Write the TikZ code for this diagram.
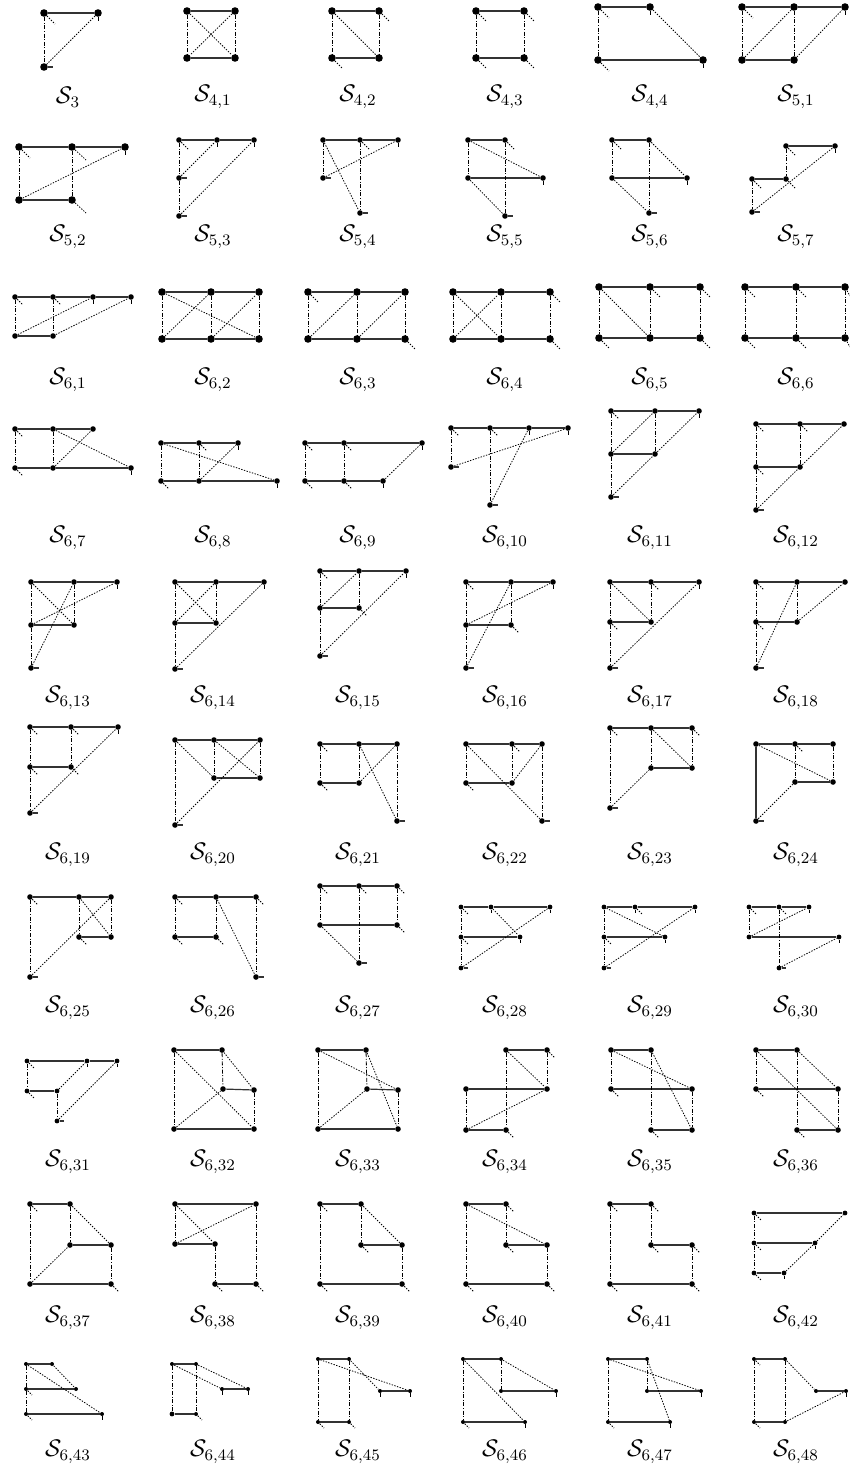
\documentclass[tikz,border=0pt]{standalone}
\usepackage{amsmath}
\usepackage{tikz}
\begin{document}
\begin{tikzpicture}[x=0.5pt,y=-0.5pt,
  vb/.style={circle,fill=black,inner sep=0pt,minimum size=3.8pt},
  vm/.style={circle,fill=black,inner sep=0pt,minimum size=2.8pt},
  vs/.style={circle,fill=black,inner sep=0pt,minimum size=2.4pt},
  vt/.style={circle,fill=black,inner sep=0pt,minimum size=2pt},
  sol/.style={line width=0.6pt,black!80},
  dsh/.style={line width=0.4pt,dash pattern=on 2pt off 0.8pt on 0.5pt off 0.8pt},
  dtt/.style={line width=0.4pt,dash pattern=on 0.7pt off 0.7pt},
  lab/.style={font=\large}]
\useasboundingbox (0,0) rectangle (850,1467);

\node[vb] (s3a) at (44,13) {}; \node[vb] (s3b) at (98,13) {}; \node[vb] (s3c) at (44,67) {};
\draw[sol] (s3a) -- (s3b); \draw[dsh] (s3a) -- (s3c); \draw[dtt] (s3b) -- (s3c);
\draw[dtt] (s3a) -- ++(11,11); \draw[dsh] (s3b) -- ++(0,8); \draw[sol] (s3c) -- ++(9,0);
\node[lab] (l3) at (68,97) {$\mathcal{S}_{3}$};

\node[vb] (s41a) at (187,11) {}; \node[vb] (s41b) at (235,11) {}; \node[vb] (s41c) at (187,58) {}; \node[vb] (s41d) at (235,58) {};
\draw[sol] (s41a) -- (s41b); \draw[sol] (s41c) -- (s41d);
\draw[dsh] (s41a) -- (s41c); \draw[dsh] (s41b) -- (s41d);
\draw[dtt] (s41a) -- (s41d); \draw[dtt] (s41b) -- (s41c);
\node[lab] (l41) at (213,97) {$\mathcal{S}_{4,1}$};

\node[vb] (s42a) at (332,11) {}; \node[vb] (s42b) at (379,11) {}; \node[vb] (s42c) at (332,58) {}; \node[vb] (s42d) at (379,58) {};
\draw[sol] (s42a) -- (s42b); \draw[sol] (s42c) -- (s42d);
\draw[dsh] (s42a) -- (s42c); \draw[dsh] (s42b) -- (s42d);
\draw[dtt] (s42a) -- (s42d);
\draw[dtt] (s42b) -- ++(10,10); \draw[dtt] (s42c) -- ++(10,10);
\node[lab] (l42) at (358,97) {$\mathcal{S}_{4,2}$};

\node[vb] (s43a) at (476,11) {}; \node[vb] (s43b) at (524,11) {}; \node[vb] (s43c) at (476,58) {}; \node[vb] (s43d) at (524,58) {};
\draw[sol] (s43a) -- (s43b); \draw[sol] (s43c) -- (s43d);
\draw[dsh] (s43a) -- (s43c); \draw[dsh] (s43b) -- (s43d);
\draw[dtt] (s43a) -- ++(10,10); \draw[dtt] (s43b) -- ++(10,10); \draw[dtt] (s43c) -- ++(10,10); \draw[dtt] (s43d) -- ++(10,10);
\node[lab] (l43) at (505,97) {$\mathcal{S}_{4,3}$};

\node[vb] (s44a) at (598,7) {}; \node[vb] (s44b) at (650,7) {}; \node[vb] (s44c) at (598,60) {}; \node[vb] (s44d) at (703,60) {};
\draw[sol] (s44a) -- (s44b); \draw[sol] (s44c) -- (s44d);
\draw[dsh] (s44a) -- (s44c); \draw[dtt] (s44b) -- (s44d);
\draw[dtt] (s44a) -- ++(11,11); \draw[dsh] (s44b) -- ++(0,8); \draw[dtt] (s44c) -- ++(11,11); \draw[dsh] (s44d) -- ++(0,8);
\node[lab] (l44) at (650,97) {$\mathcal{S}_{4,4}$};

\node[vb] (s51a) at (742,7) {}; \node[vb] (s51b) at (794,7) {}; \node[vb] (s51c) at (845,7) {}; \node[vb] (s51d) at (742,60) {}; \node[vb] (s51e) at (794,60) {};
\draw[sol] (s51a) -- (s51b) -- (s51c); \draw[sol] (s51d) -- (s51e);
\draw[dsh] (s51a) -- (s51d); \draw[dsh] (s51b) -- (s51e);
\draw[dtt] (s51d) -- (s51b); \draw[dtt] (s51e) -- (s51c);
\draw[dtt] (s51a) -- ++(11,11); \draw[dsh] (s51c) -- ++(0,8);
\node[lab] (l51) at (796,97) {$\mathcal{S}_{5,1}$};

\node[vb] (s52a) at (19,147) {}; \node[vb] (s52b) at (72,147) {}; \node[vb] (s52c) at (125,147) {}; \node[vb] (s52d) at (19,200) {}; \node[vb] (s52e) at (72,200) {};
\draw[sol] (s52a) -- (s52b) -- (s52c); \draw[sol] (s52d) -- (s52e);
\draw[dsh] (s52a) -- (s52d); \draw[dsh] (s52b) -- (s52e);
\draw[dtt] (s52d) -- (s52c);
\draw[dtt] (s52a) -- ++(11,11); \draw[dtt] (s52b) -- ++(14,13); \draw[dsh] (s52c) -- ++(0,8); \draw[dtt] (s52e) -- ++(14,13);
\node[lab] (l52) at (68,237) {$\mathcal{S}_{5,2}$};

\node[vm] (s53a) at (179,140) {}; \node[vm] (s53b) at (217,140) {}; \node[vm] (s53c) at (254,140) {}; \node[vm] (s53d) at (179,178) {}; \node[vm] (s53e) at (179,216) {};
\draw[sol] (s53a) -- (s53b) -- (s53c);
\draw[dsh] (s53a) -- (s53d) -- (s53e);
\draw[dtt] (s53d) -- (s53b); \draw[dtt] (s53e) -- (s53c);
\draw[dtt] (s53a) -- ++(9,9); \draw[dsh] (s53b) -- ++(0,7); \draw[dsh] (s53c) -- ++(0,7); \draw[sol] (s53d) -- ++(8,0); \draw[sol] (s53e) -- ++(8,0);
\node[lab] (l53) at (213,237) {$\mathcal{S}_{5,3}$};

\node[vm] (s54a) at (323,140) {}; \node[vm] (s54b) at (360,140) {}; \node[vm] (s54c) at (398,140) {}; \node[vm] (s54d) at (323,178) {}; \node[vm] (s54e) at (360,213) {};
\draw[sol] (s54a) -- (s54b) -- (s54c);
\draw[dsh] (s54a) -- (s54d); \draw[dsh] (s54b) -- (s54e);
\draw[dtt] (s54a) -- (s54e); \draw[dtt] (s54d) -- (s54c);
\draw[dtt] (s54b) -- ++(9,9); \draw[dsh] (s54c) -- ++(0,7); \draw[sol] (s54d) -- ++(8,0); \draw[sol] (s54e) -- ++(8,0);
\node[lab] (l54) at (358,237) {$\mathcal{S}_{5,4}$};

\node[vm] (s55a) at (468,140) {}; \node[vm] (s55b) at (505,140) {}; \node[vm] (s55c) at (468,178) {}; \node[vm] (s55d) at (543,178) {}; \node[vm] (s55e) at (505,216) {};
\draw[sol] (s55a) -- (s55b); \draw[sol] (s55c) -- (s55d);
\draw[dsh] (s55a) -- (s55c); \draw[dsh] (s55b) -- (s55e);
\draw[dtt] (s55a) -- (s55d); \draw[dtt] (s55c) -- (s55e);
\draw[dtt] (s55b) -- ++(9,9); \draw[dsh] (s55d) -- ++(0,7); \draw[sol] (s55e) -- ++(8,0);
\node[lab] (l55) at (505,237) {$\mathcal{S}_{5,5}$};

\node[vm] (s56a) at (612,140) {}; \node[vm] (s56b) at (649,140) {}; \node[vm] (s56c) at (612,178) {}; \node[vm] (s56d) at (687,178) {}; \node[vm] (s56e) at (649,213) {};
\draw[sol] (s56a) -- (s56b); \draw[sol] (s56c) -- (s56d);
\draw[dsh] (s56a) -- (s56c); \draw[dsh] (s56b) -- (s56e);
\draw[dtt] (s56b) -- (s56d); \draw[dtt] (s56c) -- (s56e);
\draw[dtt] (s56a) -- ++(9,9); \draw[dsh] (s56d) -- ++(0,7); \draw[sol] (s56e) -- ++(8,0);
\node[lab] (l56) at (650,237) {$\mathcal{S}_{5,6}$};

\node[vm] (s57a) at (786,146) {}; \node[vm] (s57b) at (835,146) {}; \node[vm] (s57c) at (752,179) {}; \node[vm] (s57d) at (786,179) {}; \node[vm] (s57e) at (752,212) {};
\draw[sol] (s57a) -- (s57b); \draw[sol] (s57c) -- (s57d);
\draw[dsh] (s57a) -- (s57d); \draw[dsh] (s57c) -- (s57e);
\draw[dtt] (s57e) -- (s57b);
\draw[dtt] (s57a) -- ++(9,9); \draw[dsh] (s57b) -- ++(0,7); \draw[dtt] (s57c) -- ++(9,9); \draw[dtt] (s57d) -- ++(9,9); \draw[sol] (s57e) -- ++(8,0);
\node[lab] (l57) at (796,237) {$\mathcal{S}_{5,7}$};

\node[vm] (s61a) at (15,297) {}; \node[vm] (s61b) at (53,297) {}; \node[vm] (s61c) at (93,297) {}; \node[vm] (s61d) at (131,297) {}; \node[vm] (s61e) at (15,336) {}; \node[vm] (s61f) at (53,336) {};
\draw[sol] (s61a) -- (s61b) -- (s61c) -- (s61d); \draw[sol] (s61e) -- (s61f);
\draw[dsh] (s61a) -- (s61e); \draw[dsh] (s61b) -- (s61f);
\draw[dtt] (s61e) -- (s61c); \draw[dtt] (s61f) -- (s61d);
\draw[dtt] (s61a) -- ++(8,8); \draw[dtt] (s61b) -- ++(8,8); \draw[dsh] (s61c) -- ++(0,7); \draw[dsh] (s61d) -- ++(0,7);
\node[lab] (l61) at (68,380) {$\mathcal{S}_{6,1}$};

\node[vb] (s62a) at (162,292) {}; \node[vb] (s62b) at (211,292) {}; \node[vb] (s62c) at (259,292) {}; \node[vb] (s62d) at (162,339) {}; \node[vb] (s62e) at (211,339) {}; \node[vb] (s62f) at (259,339) {};
\draw[sol] (s62a) -- (s62b) -- (s62c); \draw[sol] (s62d) -- (s62e) -- (s62f);
\draw[dsh] (s62a) -- (s62d); \draw[dsh] (s62b) -- (s62e); \draw[dsh] (s62c) -- (s62f);
\draw[dtt] (s62a) -- (s62f); \draw[dtt] (s62d) -- (s62b); \draw[dtt] (s62e) -- (s62c);
\node[lab] (l62) at (213,380) {$\mathcal{S}_{6,2}$};

\node[vb] (s63a) at (308,292) {}; \node[vb] (s63b) at (357,292) {}; \node[vb] (s63c) at (405,292) {}; \node[vb] (s63d) at (308,339) {}; \node[vb] (s63e) at (357,339) {}; \node[vb] (s63f) at (405,339) {};
\draw[sol] (s63a) -- (s63b) -- (s63c); \draw[sol] (s63d) -- (s63e) -- (s63f);
\draw[dsh] (s63a) -- (s63d); \draw[dsh] (s63b) -- (s63e); \draw[dsh] (s63c) -- (s63f);
\draw[dtt] (s63d) -- (s63b); \draw[dtt] (s63e) -- (s63c);
\draw[dtt] (s63a) -- ++(10,10); \draw[dtt] (s63f) -- ++(10,10);
\node[lab] (l63) at (358,380) {$\mathcal{S}_{6,3}$};

\node[vb] (s64a) at (453,292) {}; \node[vb] (s64b) at (501,292) {}; \node[vb] (s64c) at (550,292) {}; \node[vb] (s64d) at (453,339) {}; \node[vb] (s64e) at (501,339) {}; \node[vb] (s64f) at (550,339) {};
\draw[sol] (s64a) -- (s64b) -- (s64c); \draw[sol] (s64d) -- (s64e) -- (s64f);
\draw[dsh] (s64a) -- (s64d); \draw[dsh] (s64b) -- (s64e); \draw[dsh] (s64c) -- (s64f);
\draw[dtt] (s64a) -- (s64e); \draw[dtt] (s64d) -- (s64b);
\draw[dtt] (s64c) -- ++(10,10); \draw[dtt] (s64f) -- ++(10,10);
\node[lab] (l64) at (505,380) {$\mathcal{S}_{6,4}$};

\node[vb] (s65a) at (599,287) {}; \node[vb] (s65b) at (650,287) {}; \node[vb] (s65c) at (700,287) {}; \node[vb] (s65d) at (599,338) {}; \node[vb] (s65e) at (650,338) {}; \node[vb] (s65f) at (700,338) {};
\draw[sol] (s65a) -- (s65b) -- (s65c); \draw[sol] (s65d) -- (s65e) -- (s65f);
\draw[dsh] (s65a) -- (s65d); \draw[dsh] (s65b) -- (s65e); \draw[dsh] (s65c) -- (s65f);
\draw[dtt] (s65a) -- (s65e);
\draw[dtt] (s65b) -- ++(10,10); \draw[dtt] (s65c) -- ++(10,10); \draw[dtt] (s65d) -- ++(10,10); \draw[dtt] (s65f) -- ++(10,10);
\node[lab] (l65) at (650,380) {$\mathcal{S}_{6,5}$};

\node[vb] (s66a) at (745,287) {}; \node[vb] (s66b) at (796,287) {}; \node[vb] (s66c) at (845,287) {}; \node[vb] (s66d) at (745,338) {}; \node[vb] (s66e) at (796,338) {}; \node[vb] (s66f) at (845,338) {};
\draw[sol] (s66a) -- (s66b) -- (s66c); \draw[sol] (s66d) -- (s66e) -- (s66f);
\draw[dsh] (s66a) -- (s66d); \draw[dsh] (s66b) -- (s66e); \draw[dsh] (s66c) -- (s66f);
\draw[dtt] (s66a) -- ++(10,10); \draw[dtt] (s66b) -- ++(10,10); \draw[dtt] (s66c) -- ++(5,9); \draw[dtt] (s66d) -- ++(10,10); \draw[dtt] (s66e) -- ++(10,10); \draw[dtt] (s66f) -- ++(5,9);
\node[lab] (l66) at (796,380) {$\mathcal{S}_{6,6}$};

\node[vm] (s67a) at (15,429) {}; \node[vm] (s67b) at (53,429) {}; \node[vm] (s67c) at (93,429) {}; \node[vm] (s67d) at (15,468) {}; \node[vm] (s67e) at (53,468) {}; \node[vm] (s67f) at (131,468) {};
\draw[sol] (s67a) -- (s67b) -- (s67c); \draw[sol] (s67d) -- (s67e) -- (s67f);
\draw[dsh] (s67a) -- (s67d); \draw[dsh] (s67b) -- (s67e);
\draw[dtt] (s67e) -- (s67c); \draw[dtt] (s67b) -- (s67f);
\draw[dtt] (s67a) -- ++(8,8); \draw[dtt] (s67d) -- ++(8,8); \draw[dsh] (s67f) -- ++(0,7);
\node[lab] (l67) at (68,538) {$\mathcal{S}_{6,7}$};

\node[vm] (s68a) at (161,443) {}; \node[vm] (s68b) at (199,443) {}; \node[vm] (s68c) at (238,443) {}; \node[vm] (s68d) at (161,481) {}; \node[vm] (s68e) at (199,481) {}; \node[vm] (s68f) at (277,481) {};
\draw[sol] (s68a) -- (s68b) -- (s68c); \draw[sol] (s68d) -- (s68e) -- (s68f);
\draw[dsh] (s68a) -- (s68d); \draw[dsh] (s68b) -- (s68e);
\draw[dtt] (s68a) -- (s68f); \draw[dtt] (s68e) -- (s68c);
\draw[dtt] (s68b) -- ++(8,8); \draw[dsh] (s68c) -- ++(0,7); \draw[dtt] (s68d) -- ++(8,8); \draw[dsh] (s68f) -- ++(0,7);
\node[lab] (l68) at (213,538) {$\mathcal{S}_{6,8}$};

\node[vm] (s69a) at (305,443) {}; \node[vm] (s69b) at (344,443) {}; \node[vm] (s69c) at (422,443) {}; \node[vm] (s69d) at (305,481) {}; \node[vm] (s69e) at (344,481) {}; \node[vm] (s69f) at (383,481) {};
\draw[sol] (s69a) -- (s69b) -- (s69c); \draw[sol] (s69d) -- (s69e) -- (s69f);
\draw[dsh] (s69a) -- (s69d); \draw[dsh] (s69b) -- (s69e);
\draw[dtt] (s69f) -- (s69c);
\draw[dtt] (s69a) -- ++(8,8); \draw[dtt] (s69b) -- ++(8,8); \draw[dsh] (s69c) -- ++(0,7); \draw[dtt] (s69d) -- ++(8,8); \draw[dtt] (s69e) -- ++(8,8); \draw[dsh] (s69f) -- ++(0,7);
\node[lab] (l69) at (358,538) {$\mathcal{S}_{6,9}$};

\node[vm] (s610a) at (451,428) {}; \node[vm] (s610b) at (490,428) {}; \node[vm] (s610c) at (529,428) {}; \node[vm] (s610d) at (568,428) {}; \node[vm] (s610e) at (451,467) {}; \node[vm] (s610f) at (490,505) {};
\draw[sol] (s610a) -- (s610b) -- (s610c) -- (s610d);
\draw[dsh] (s610a) -- (s610e); \draw[dsh] (s610b) -- (s610f);
\draw[dtt] (s610e) -- (s610d); \draw[dtt] (s610f) -- (s610c);
\draw[dtt] (s610a) -- ++(8,8); \draw[dtt] (s610b) -- ++(8,8); \draw[dsh] (s610c) -- ++(0,7); \draw[dsh] (s610d) -- ++(0,7); \draw[sol] (s610e) -- ++(8,0); \draw[sol] (s610f) -- ++(8,0);
\node[lab] (l610) at (505,538) {$\mathcal{S}_{6,10}$};

\node[vm] (s611a) at (611,411) {}; \node[vm] (s611b) at (655,411) {}; \node[vm] (s611c) at (699,411) {}; \node[vm] (s611d) at (611,454) {}; \node[vm] (s611e) at (655,454) {}; \node[vm] (s611f) at (611,497) {};
\draw[sol] (s611a) -- (s611b) -- (s611c); \draw[sol] (s611d) -- (s611e);
\draw[dsh] (s611a) -- (s611d) -- (s611f); \draw[dsh] (s611b) -- (s611e);
\draw[dtt] (s611d) -- (s611b); \draw[dtt] (s611f) -- (s611e) -- (s611c);
\draw[dtt] (s611a) -- ++(8,8); \draw[dsh] (s611c) -- ++(0,7); \draw[sol] (s611f) -- ++(8,0);
\node[lab] (l611) at (650,538) {$\mathcal{S}_{6,11}$};

\node[vm] (s612a) at (756,424) {}; \node[vm] (s612b) at (800,424) {}; \node[vm] (s612c) at (844,424) {}; \node[vm] (s612d) at (756,467) {}; \node[vm] (s612e) at (800,467) {}; \node[vm] (s612f) at (756,510) {};
\draw[sol] (s612a) -- (s612b) -- (s612c); \draw[sol] (s612d) -- (s612e);
\draw[dsh] (s612a) -- (s612d) -- (s612f); \draw[dsh] (s612b) -- (s612e);
\draw[dtt] (s612f) -- (s612e) -- (s612c);
\draw[dtt] (s612a) -- ++(8,8); \draw[dtt] (s612b) -- ++(8,8); \draw[dtt] (s612d) -- ++(8,8); \draw[sol] (s612f) -- ++(8,0);
\node[lab] (l612) at (796,538) {$\mathcal{S}_{6,12}$};

\node[vm] (s613a) at (31,582) {}; \node[vm] (s613b) at (74,582) {}; \node[vm] (s613c) at (117,582) {}; \node[vm] (s613d) at (31,625) {}; \node[vm] (s613e) at (74,625) {}; \node[vm] (s613f) at (31,668) {};
\draw[sol] (s613a) -- (s613b) -- (s613c); \draw[sol] (s613d) -- (s613e);
\draw[dsh] (s613a) -- (s613d) -- (s613f); \draw[dsh] (s613b) -- (s613e);
\draw[dtt] (s613a) -- (s613e); \draw[dtt] (s613d) -- (s613c); \draw[dtt] (s613f) -- (s613b);
\draw[dsh] (s613c) -- ++(0,7); \draw[sol] (s613f) -- ++(8,0);
\node[lab] (l613) at (68,698) {$\mathcal{S}_{6,13}$};

\node[vm] (s614a) at (175,582) {}; \node[vm] (s614b) at (216,582) {}; \node[vm] (s614c) at (264,582) {}; \node[vm] (s614d) at (175,623) {}; \node[vm] (s614e) at (216,623) {}; \node[vm] (s614f) at (175,669) {};
\draw[sol] (s614a) -- (s614b) -- (s614c); \draw[sol] (s614d) -- (s614e);
\draw[dsh] (s614a) -- (s614d) -- (s614f); \draw[dsh] (s614b) -- (s614e);
\draw[dtt] (s614a) -- (s614e); \draw[dtt] (s614d) -- (s614b); \draw[dtt] (s614f) -- (s614c);
\draw[dsh] (s614c) -- ++(0,7); \draw[sol] (s614f) -- ++(8,0);
\node[lab] (l614) at (213,698) {$\mathcal{S}_{6,14}$};

\node[vm] (s615a) at (320,571) {}; \node[vm] (s615b) at (359,571) {}; \node[vm] (s615c) at (406,571) {}; \node[vm] (s615d) at (320,608) {}; \node[vm] (s615e) at (359,608) {}; \node[vm] (s615f) at (320,656) {};
\draw[sol] (s615a) -- (s615b) -- (s615c); \draw[sol] (s615d) -- (s615e);
\draw[dsh] (s615a) -- (s615d) -- (s615f); \draw[dsh] (s615b) -- (s615e);
\draw[dtt] (s615d) -- (s615b); \draw[dtt] (s615f) -- (s615c);
\draw[dtt] (s615a) -- ++(8,8); \draw[dsh] (s615c) -- ++(0,7); \draw[dtt] (s615e) -- ++(8,8); \draw[sol] (s615f) -- ++(8,0);
\node[lab] (l615) at (358,698) {$\mathcal{S}_{6,15}$};

\node[vm] (s616a) at (466,582) {}; \node[vm] (s616b) at (511,582) {}; \node[vm] (s616c) at (553,582) {}; \node[vm] (s616d) at (466,625) {}; \node[vm] (s616e) at (511,625) {}; \node[vm] (s616f) at (466,668) {};
\draw[sol] (s616a) -- (s616b) -- (s616c); \draw[sol] (s616d) -- (s616e);
\draw[dsh] (s616a) -- (s616d) -- (s616f); \draw[dsh] (s616b) -- (s616e);
\draw[dtt] (s616d) -- (s616c); \draw[dtt] (s616f) -- (s616b);
\draw[dtt] (s616a) -- ++(8,8); \draw[dsh] (s616c) -- ++(0,7); \draw[dtt] (s616e) -- ++(8,8); \draw[sol] (s616f) -- ++(8,0);
\node[lab] (l616) at (505,698) {$\mathcal{S}_{6,16}$};

\node[vm] (s617a) at (610,582) {}; \node[vm] (s617b) at (651,582) {}; \node[vm] (s617c) at (699,582) {}; \node[vm] (s617d) at (610,622) {}; \node[vm] (s617e) at (651,622) {}; \node[vm] (s617f) at (610,668) {};
\draw[sol] (s617a) -- (s617b) -- (s617c); \draw[sol] (s617d) -- (s617e);
\draw[dsh] (s617a) -- (s617d) -- (s617f); \draw[dsh] (s617b) -- (s617e);
\draw[dtt] (s617a) -- (s617e); \draw[dtt] (s617f) -- (s617c);
\draw[dtt] (s617b) -- ++(8,8); \draw[dsh] (s617c) -- ++(0,7); \draw[dtt] (s617d) -- ++(8,8); \draw[sol] (s617f) -- ++(8,0);
\node[lab] (l617) at (650,698) {$\mathcal{S}_{6,17}$};

\node[vm] (s618a) at (756,582) {}; \node[vm] (s618b) at (797,582) {}; \node[vm] (s618c) at (845,582) {}; \node[vm] (s618d) at (756,622) {}; \node[vm] (s618e) at (797,622) {}; \node[vm] (s618f) at (756,668) {};
\draw[sol] (s618a) -- (s618b) -- (s618c); \draw[sol] (s618d) -- (s618e);
\draw[dsh] (s618a) -- (s618d) -- (s618f); \draw[dsh] (s618b) -- (s618e);
\draw[dtt] (s618f) -- (s618b); \draw[dtt] (s618e) -- (s618c);
\draw[dtt] (s618a) -- ++(8,8); \draw[dtt] (s618d) -- ++(8,8); \draw[sol] (s618f) -- ++(8,0);
\node[lab] (l618) at (796,698) {$\mathcal{S}_{6,18}$};

\node[vm] (s619a) at (30,727) {}; \node[vm] (s619b) at (71,727) {}; \node[vm] (s619c) at (118,727) {}; \node[vm] (s619d) at (30,767) {}; \node[vm] (s619e) at (71,767) {}; \node[vm] (s619f) at (30,813) {};
\draw[sol] (s619a) -- (s619b) -- (s619c); \draw[sol] (s619d) -- (s619e);
\draw[dsh] (s619a) -- (s619d) -- (s619f); \draw[dsh] (s619b) -- (s619e);
\draw[dtt] (s619f) -- (s619c);
\draw[dtt] (s619a) -- ++(8,8); \draw[dtt] (s619b) -- ++(8,8); \draw[dsh] (s619c) -- ++(0,7); \draw[dtt] (s619d) -- ++(8,8); \draw[dtt] (s619e) -- ++(8,8); \draw[sol] (s619f) -- ++(8,0);
\node[lab] (l619) at (68,855) {$\mathcal{S}_{6,19}$};

\node[vm] (s620a) at (175,740) {}; \node[vm] (s620b) at (214,740) {}; \node[vm] (s620c) at (260,740) {}; \node[vm] (s620d) at (214,778) {}; \node[vm] (s620e) at (260,778) {}; \node[vm] (s620f) at (175,825) {};
\draw[sol] (s620a) -- (s620b) -- (s620c); \draw[sol] (s620d) -- (s620e);
\draw[dsh] (s620a) -- (s620f); \draw[dsh] (s620b) -- (s620d); \draw[dsh] (s620c) -- (s620e);
\draw[dtt] (s620a) -- (s620d); \draw[dtt] (s620b) -- (s620e); \draw[dtt] (s620f) -- (s620c);
\draw[sol] (s620f) -- ++(8,0);
\node[lab] (l620) at (213,855) {$\mathcal{S}_{6,20}$};

\node[vm] (s621a) at (320,744) {}; \node[vm] (s621b) at (359,744) {}; \node[vm] (s621c) at (397,744) {}; \node[vm] (s621d) at (320,783) {}; \node[vm] (s621e) at (359,783) {}; \node[vm] (s621f) at (397,821) {};
\draw[sol] (s621a) -- (s621b) -- (s621c); \draw[sol] (s621d) -- (s621e);
\draw[dsh] (s621a) -- (s621d); \draw[dsh] (s621b) -- (s621e); \draw[dsh] (s621c) -- (s621f);
\draw[dtt] (s621e) -- (s621c); \draw[dtt] (s621b) -- (s621f);
\draw[dtt] (s621a) -- ++(8,8); \draw[dtt] (s621d) -- ++(8,8); \draw[sol] (s621f) -- ++(8,0);
\node[lab] (l621) at (358,855) {$\mathcal{S}_{6,21}$};

\node[vm] (s622a) at (466,744) {}; \node[vm] (s622b) at (512,744) {}; \node[vm] (s622c) at (542,744) {}; \node[vm] (s622d) at (466,783) {}; \node[vm] (s622e) at (512,783) {}; \node[vm] (s622f) at (542,821) {};
\draw[sol] (s622a) -- (s622b) -- (s622c); \draw[sol] (s622d) -- (s622e);
\draw[dsh] (s622a) -- (s622d); \draw[dsh] (s622b) -- (s622e); \draw[dsh] (s622c) -- (s622f);
\draw[dtt] (s622a) -- (s622f); \draw[dtt] (s622e) -- (s622c);
\draw[dtt] (s622b) -- ++(8,8); \draw[dtt] (s622d) -- ++(8,8); \draw[sol] (s622f) -- ++(8,0);
\node[lab] (l622) at (505,855) {$\mathcal{S}_{6,22}$};

\node[vm] (s623a) at (610,728) {}; \node[vm] (s623b) at (651,728) {}; \node[vm] (s623c) at (692,728) {}; \node[vm] (s623d) at (651,768) {}; \node[vm] (s623e) at (692,768) {}; \node[vm] (s623f) at (610,808) {};
\draw[sol] (s623a) -- (s623b) -- (s623c); \draw[sol] (s623d) -- (s623e);
\draw[dsh] (s623a) -- (s623f); \draw[dsh] (s623b) -- (s623d); \draw[dsh] (s623c) -- (s623e);
\draw[dtt] (s623b) -- (s623e); \draw[dtt] (s623f) -- (s623d);
\draw[dtt] (s623a) -- ++(8,8); \draw[dtt] (s623c) -- ++(8,8); \draw[sol] (s623f) -- ++(8,0);
\node[lab] (l623) at (650,855) {$\mathcal{S}_{6,23}$};

\node[vm] (s624a) at (756,744) {}; \node[vm] (s624b) at (795,744) {}; \node[vm] (s624c) at (833,744) {}; \node[vm] (s624d) at (795,782) {}; \node[vm] (s624e) at (833,782) {}; \node[vm] (s624f) at (756,821) {};
\draw[sol] (s624a) -- (s624b) -- (s624c); \draw[sol] (s624d) -- (s624e); \draw[sol] (s624a) -- (s624f);
\draw[dsh] (s624b) -- (s624d); \draw[dsh] (s624c) -- (s624e);
\draw[dtt] (s624a) -- (s624e); \draw[dtt] (s624f) -- (s624d);
\draw[dtt] (s624b) -- ++(8,8); \draw[sol] (s624f) -- ++(8,0);
\node[lab] (l624) at (796,855) {$\mathcal{S}_{6,24}$};

\node[vm] (s625a) at (30,897) {}; \node[vm] (s625b) at (79,897) {}; \node[vm] (s625c) at (111,897) {}; \node[vm] (s625d) at (79,937) {}; \node[vm] (s625e) at (111,937) {}; \node[vm] (s625f) at (30,977) {};
\draw[sol] (s625a) -- (s625b) -- (s625c); \draw[sol] (s625d) -- (s625e);
\draw[dsh] (s625a) -- (s625f); \draw[dsh] (s625b) -- (s625d); \draw[dsh] (s625c) -- (s625e);
\draw[dtt] (s625b) -- (s625e); \draw[dtt] (s625f) -- (s625c);
\draw[dtt] (s625a) -- ++(8,8); \draw[dtt] (s625d) -- ++(8,8); \draw[sol] (s625f) -- ++(8,0);
\node[lab] (l625) at (68,1008) {$\mathcal{S}_{6,25}$};

\node[vm] (s626a) at (175,897) {}; \node[vm] (s626b) at (216,897) {}; \node[vm] (s626c) at (256,897) {}; \node[vm] (s626d) at (175,937) {}; \node[vm] (s626e) at (216,937) {}; \node[vm] (s626f) at (256,977) {};
\draw[sol] (s626a) -- (s626b) -- (s626c); \draw[sol] (s626d) -- (s626e);
\draw[dsh] (s626a) -- (s626d); \draw[dsh] (s626b) -- (s626e); \draw[dsh] (s626c) -- (s626f);
\draw[dtt] (s626b) -- (s626f);
\draw[dtt] (s626a) -- ++(8,8); \draw[dtt] (s626c) -- ++(8,8); \draw[dtt] (s626d) -- ++(8,8); \draw[dtt] (s626e) -- ++(8,8); \draw[sol] (s626f) -- ++(8,0);
\node[lab] (l626) at (213,1008) {$\mathcal{S}_{6,26}$};

\node[vm] (s627a) at (320,886) {}; \node[vm] (s627b) at (359,886) {}; \node[vm] (s627c) at (397,886) {}; \node[vm] (s627d) at (320,925) {}; \node[vm] (s627e) at (397,925) {}; \node[vm] (s627f) at (359,963) {};
\draw[sol] (s627a) -- (s627b) -- (s627c); \draw[sol] (s627d) -- (s627e);
\draw[dsh] (s627a) -- (s627d); \draw[dsh] (s627b) -- (s627f); \draw[dsh] (s627c) -- (s627e);
\draw[dtt] (s627d) -- (s627f);
\draw[dtt] (s627a) -- ++(8,8); \draw[dtt] (s627b) -- ++(8,8); \draw[dtt] (s627c) -- ++(8,8); \draw[dtt] (s627e) -- ++(8,8); \draw[sol] (s627f) -- ++(8,0);
\node[lab] (l627) at (358,1008) {$\mathcal{S}_{6,27}$};

\node[vs] (s628a) at (461,907) {}; \node[vs] (s628b) at (491,907) {}; \node[vs] (s628c) at (550,907) {}; \node[vs] (s628d) at (461,937) {}; \node[vs] (s628e) at (520,937) {}; \node[vs] (s628f) at (461,968) {};
\draw[sol] (s628a) -- (s628b) -- (s628c); \draw[sol] (s628d) -- (s628e);
\draw[dsh] (s628a) -- (s628d) -- (s628f);
\draw[dtt] (s628b) -- (s628e); \draw[dtt] (s628f) -- (s628c);
\draw[dtt] (s628a) -- ++(7,7); \draw[dsh] (s628b) -- ++(0,6); \draw[dsh] (s628c) -- ++(0,6); \draw[dtt] (s628d) -- ++(7,7); \draw[dsh] (s628e) -- ++(0,6); \draw[sol] (s628f) -- ++(7,0);
\node[lab] (l628) at (505,1008) {$\mathcal{S}_{6,28}$};

\node[vs] (s629a) at (604,907) {}; \node[vs] (s629b) at (635,907) {}; \node[vs] (s629c) at (695,907) {}; \node[vs] (s629d) at (604,937) {}; \node[vs] (s629e) at (665,937) {}; \node[vs] (s629f) at (604,968) {};
\draw[sol] (s629a) -- (s629b) -- (s629c); \draw[sol] (s629d) -- (s629e);
\draw[dsh] (s629a) -- (s629d) -- (s629f);
\draw[dtt] (s629a) -- (s629e); \draw[dtt] (s629f) -- (s629c);
\draw[dsh] (s629b) -- ++(0,6); \draw[dtt] (s629b) -- ++(7,7); \draw[dsh] (s629c) -- ++(0,6); \draw[dtt] (s629d) -- ++(7,7); \draw[dsh] (s629e) -- ++(0,6); \draw[sol] (s629f) -- ++(7,0);
\node[lab] (l629) at (650,1008) {$\mathcal{S}_{6,29}$};

\node[vs] (s630a) at (749,907) {}; \node[vs] (s630b) at (779,907) {}; \node[vs] (s630c) at (809,907) {}; \node[vs] (s630d) at (749,937) {}; \node[vs] (s630e) at (839,937) {}; \node[vs] (s630f) at (779,968) {};
\draw[sol] (s630a) -- (s630b) -- (s630c); \draw[sol] (s630d) -- (s630e);
\draw[dsh] (s630a) -- (s630d); \draw[dsh] (s630b) -- (s630f);
\draw[dtt] (s630d) -- (s630c); \draw[dtt] (s630f) -- (s630e);
\draw[dtt] (s630a) -- ++(7,7); \draw[dtt] (s630b) -- ++(7,7); \draw[dsh] (s630c) -- ++(0,6); \draw[dsh] (s630e) -- ++(0,6); \draw[sol] (s630f) -- ++(7,0);
\node[lab] (l630) at (796,1008) {$\mathcal{S}_{6,30}$};

\node[vs] (s631a) at (27,1061) {}; \node[vs] (s631b) at (87,1061) {}; \node[vs] (s631c) at (117,1061) {}; \node[vs] (s631d) at (27,1091) {}; \node[vs] (s631e) at (57,1091) {}; \node[vs] (s631f) at (57,1121) {};
\draw[sol] (s631a) -- (s631b) -- (s631c); \draw[sol] (s631d) -- (s631e);
\draw[dsh] (s631a) -- (s631d); \draw[dsh] (s631e) -- (s631f);
\draw[dtt] (s631e) -- (s631b); \draw[dtt] (s631f) -- (s631c);
\draw[dtt] (s631a) -- ++(7,7); \draw[dsh] (s631b) -- ++(0,6); \draw[dsh] (s631c) -- ++(0,6); \draw[dtt] (s631d) -- ++(7,7); \draw[sol] (s631f) -- ++(7,0);
\node[lab] (l631) at (68,1162) {$\mathcal{S}_{6,31}$};

\node[vm] (s632a) at (174,1050) {}; \node[vm] (s632b) at (222,1050) {}; \node[vm] (s632c) at (223,1089) {}; \node[vm] (s632d) at (254,1090) {}; \node[vm] (s632e) at (174,1129) {}; \node[vm] (s632f) at (254,1129) {};
\draw[sol] (s632a) -- (s632b); \draw[sol] (s632c) -- (s632d); \draw[sol] (s632e) -- (s632f);
\draw[dsh] (s632a) -- (s632e); \draw[dsh] (s632b) -- (s632c); \draw[dsh] (s632d) -- (s632f);
\draw[dtt] (s632a) -- (s632f); \draw[dtt] (s632b) -- (s632d); \draw[dtt] (s632e) -- (s632c);
\node[lab] (l632) at (213,1162) {$\mathcal{S}_{6,32}$};

\node[vm] (s633a) at (318,1050) {}; \node[vm] (s633b) at (366,1050) {}; \node[vm] (s633c) at (367,1089) {}; \node[vm] (s633d) at (398,1090) {}; \node[vm] (s633e) at (318,1129) {}; \node[vm] (s633f) at (398,1129) {};
\draw[sol] (s633a) -- (s633b); \draw[sol] (s633c) -- (s633d); \draw[sol] (s633e) -- (s633f);
\draw[dsh] (s633a) -- (s633e); \draw[dsh] (s633b) -- (s633c); \draw[dsh] (s633d) -- (s633f);
\draw[dtt] (s633a) -- (s633d); \draw[dtt] (s633b) -- (s633f); \draw[dtt] (s633e) -- (s633c);
\node[lab] (l633) at (358,1162) {$\mathcal{S}_{6,33}$};

\node[vm] (s634a) at (506,1050) {}; \node[vm] (s634b) at (547,1050) {}; \node[vm] (s634c) at (466,1089) {}; \node[vm] (s634d) at (547,1089) {}; \node[vm] (s634e) at (466,1130) {}; \node[vm] (s634f) at (506,1130) {};
\draw[sol] (s634a) -- (s634b); \draw[sol] (s634c) -- (s634d); \draw[sol] (s634e) -- (s634f);
\draw[dsh] (s634a) -- (s634f); \draw[dsh] (s634b) -- (s634d); \draw[dsh] (s634c) -- (s634e);
\draw[dtt] (s634a) -- (s634d); \draw[dtt] (s634e) -- (s634d);
\draw[dtt] (s634b) -- ++(8,8); \draw[dtt] (s634f) -- ++(8,8);
\node[lab] (l634) at (505,1162) {$\mathcal{S}_{6,34}$};

\node[vm] (s635a) at (611,1050) {}; \node[vm] (s635b) at (651,1050) {}; \node[vm] (s635c) at (611,1089) {}; \node[vm] (s635d) at (692,1089) {}; \node[vm] (s635e) at (651,1130) {}; \node[vm] (s635f) at (692,1130) {};
\draw[sol] (s635a) -- (s635b); \draw[sol] (s635c) -- (s635d); \draw[sol] (s635e) -- (s635f);
\draw[dsh] (s635a) -- (s635c); \draw[dsh] (s635b) -- (s635e); \draw[dsh] (s635d) -- (s635f);
\draw[dtt] (s635a) -- (s635d); \draw[dtt] (s635b) -- (s635f);
\draw[dtt] (s635c) -- ++(8,8); \draw[dtt] (s635e) -- ++(8,8);
\node[lab] (l635) at (650,1162) {$\mathcal{S}_{6,35}$};

\node[vm] (s636a) at (756,1050) {}; \node[vm] (s636b) at (797,1050) {}; \node[vm] (s636c) at (756,1089) {}; \node[vm] (s636d) at (838,1089) {}; \node[vm] (s636e) at (797,1130) {}; \node[vm] (s636f) at (838,1130) {};
\draw[sol] (s636a) -- (s636b); \draw[sol] (s636c) -- (s636d); \draw[sol] (s636e) -- (s636f);
\draw[dsh] (s636a) -- (s636c); \draw[dsh] (s636b) -- (s636e); \draw[dsh] (s636d) -- (s636f);
\draw[dtt] (s636a) -- (s636f); \draw[dtt] (s636b) -- (s636d);
\draw[dtt] (s636c) -- ++(8,8); \draw[dtt] (s636e) -- ++(8,8);
\node[lab] (l636) at (796,1162) {$\mathcal{S}_{6,36}$};

\node[vm] (s637a) at (30,1204) {}; \node[vm] (s637b) at (70,1204) {}; \node[vm] (s637c) at (70,1245) {}; \node[vm] (s637d) at (111,1245) {}; \node[vm] (s637e) at (30,1284) {}; \node[vm] (s637f) at (111,1284) {};
\draw[sol] (s637a) -- (s637b); \draw[sol] (s637c) -- (s637d); \draw[sol] (s637e) -- (s637f);
\draw[dsh] (s637a) -- (s637e); \draw[dsh] (s637b) -- (s637c); \draw[dsh] (s637d) -- (s637f);
\draw[dtt] (s637b) -- (s637d); \draw[dtt] (s637e) -- (s637c);
\draw[dtt] (s637a) -- ++(8,8); \draw[dtt] (s637f) -- ++(8,8);
\node[lab] (l637) at (68,1318) {$\mathcal{S}_{6,37}$};

\node[vm] (s638a) at (175,1204) {}; \node[vm] (s638b) at (256,1204) {}; \node[vm] (s638c) at (175,1244) {}; \node[vm] (s638d) at (215,1244) {}; \node[vm] (s638e) at (215,1284) {}; \node[vm] (s638f) at (256,1284) {};
\draw[sol] (s638a) -- (s638b); \draw[sol] (s638c) -- (s638d); \draw[sol] (s638e) -- (s638f);
\draw[dsh] (s638a) -- (s638c); \draw[dsh] (s638b) -- (s638f); \draw[dsh] (s638d) -- (s638e);
\draw[dtt] (s638a) -- (s638d); \draw[dtt] (s638c) -- (s638b);
\draw[dtt] (s638e) -- ++(8,8); \draw[dtt] (s638f) -- ++(8,8);
\node[lab] (l638) at (213,1318) {$\mathcal{S}_{6,38}$};

\node[vm] (s639a) at (320,1204) {}; \node[vm] (s639b) at (361,1204) {}; \node[vm] (s639c) at (361,1245) {}; \node[vm] (s639d) at (402,1245) {}; \node[vm] (s639e) at (320,1284) {}; \node[vm] (s639f) at (402,1284) {};
\draw[sol] (s639a) -- (s639b); \draw[sol] (s639c) -- (s639d); \draw[sol] (s639e) -- (s639f);
\draw[dsh] (s639a) -- (s639e); \draw[dsh] (s639b) -- (s639c); \draw[dsh] (s639d) -- (s639f);
\draw[dtt] (s639b) -- (s639d);
\draw[dtt] (s639a) -- ++(8,8); \draw[dtt] (s639c) -- ++(8,8); \draw[dtt] (s639e) -- ++(8,8); \draw[dtt] (s639f) -- ++(8,8);
\node[lab] (l639) at (358,1318) {$\mathcal{S}_{6,39}$};

\node[vm] (s640a) at (466,1204) {}; \node[vm] (s640b) at (506,1204) {}; \node[vm] (s640c) at (506,1245) {}; \node[vm] (s640d) at (547,1245) {}; \node[vm] (s640e) at (466,1284) {}; \node[vm] (s640f) at (547,1284) {};
\draw[sol] (s640a) -- (s640b); \draw[sol] (s640c) -- (s640d); \draw[sol] (s640e) -- (s640f);
\draw[dsh] (s640a) -- (s640e); \draw[dsh] (s640b) -- (s640c); \draw[dsh] (s640d) -- (s640f);
\draw[dtt] (s640a) -- (s640d);
\draw[dtt] (s640b) -- ++(8,8); \draw[dtt] (s640c) -- ++(8,8); \draw[dtt] (s640e) -- ++(8,8); \draw[dtt] (s640f) -- ++(8,8);
\node[lab] (l640) at (505,1318) {$\mathcal{S}_{6,40}$};

\node[vm] (s641a) at (610,1204) {}; \node[vm] (s641b) at (651,1204) {}; \node[vm] (s641c) at (651,1245) {}; \node[vm] (s641d) at (692,1245) {}; \node[vm] (s641e) at (610,1284) {}; \node[vm] (s641f) at (692,1284) {};
\draw[sol] (s641a) -- (s641b); \draw[sol] (s641c) -- (s641d); \draw[sol] (s641e) -- (s641f);
\draw[dsh] (s641a) -- (s641e); \draw[dsh] (s641b) -- (s641c); \draw[dsh] (s641d) -- (s641f);
\draw[dtt] (s641a) -- ++(8,8); \draw[dtt] (s641b) -- ++(8,8); \draw[dtt] (s641c) -- ++(8,8); \draw[dtt] (s641d) -- ++(8,8); \draw[dtt] (s641e) -- ++(8,8); \draw[dtt] (s641f) -- ++(8,8);
\node[lab] (l641) at (650,1318) {$\mathcal{S}_{6,41}$};

\node[vs] (s642a) at (754,1213) {}; \node[vs] (s642b) at (845,1213) {}; \node[vs] (s642c) at (754,1243) {}; \node[vs] (s642d) at (815,1243) {}; \node[vs] (s642e) at (754,1273) {}; \node[vs] (s642f) at (784,1273) {};
\draw[sol] (s642a) -- (s642b); \draw[sol] (s642c) -- (s642d); \draw[sol] (s642e) -- (s642f);
\draw[dsh] (s642a) -- (s642c) -- (s642e);
\draw[dtt] (s642d) -- (s642b); \draw[dtt] (s642f) -- (s642d);
\draw[dtt] (s642a) -- ++(7,7); \draw[dtt] (s642c) -- ++(7,7); \draw[dsh] (s642d) -- ++(0,6); \draw[dtt] (s642e) -- ++(7,7); \draw[dsh] (s642f) -- ++(0,6);
\node[lab] (l642) at (796,1318) {$\mathcal{S}_{6,42}$};

\node[vt] (s643a) at (26,1364) {}; \node[vt] (s643b) at (52,1364) {}; \node[vt] (s643c) at (26,1389) {}; \node[vt] (s643d) at (76,1389) {}; \node[vt] (s643e) at (26,1414) {}; \node[vt] (s643f) at (102,1414) {};
\draw[sol] (s643a) -- (s643b); \draw[sol] (s643c) -- (s643d); \draw[sol] (s643e) -- (s643f);
\draw[dsh] (s643a) -- (s643c) -- (s643e);
\draw[dtt] (s643b) -- (s643d); \draw[dtt] (s643a) -- (s643f);
\draw[dtt] (s643c) -- ++(6,6); \draw[dtt] (s643e) -- ++(6,6); \draw[dsh] (s643f) -- ++(0,6);
\node[lab] (l643) at (68,1452) {$\mathcal{S}_{6,43}$};

\node[vt] (s644a) at (172,1364) {}; \node[vt] (s644b) at (196,1364) {}; \node[vt] (s644c) at (222,1389) {}; \node[vt] (s644d) at (248,1389) {}; \node[vs] (s644e) at (172,1414) {}; \node[vt] (s644f) at (196,1414) {};
\draw[sol] (s644a) -- (s644b); \draw[sol] (s644c) -- (s644d); \draw[sol] (s644e) -- (s644f);
\draw[dsh] (s644a) -- (s644e); \draw[dsh] (s644b) -- (s644f);
\draw[dtt] (s644a) -- (s644c); \draw[dtt] (s644b) -- (s644d);
\draw[dsh] (s644c) -- ++(0,6); \draw[dsh] (s644d) -- ++(0,6); \draw[dtt] (s644f) -- ++(6,6);
\node[lab] (l644) at (213,1452) {$\mathcal{S}_{6,44}$};

\node[vt] (s645a) at (318,1359) {}; \node[vt] (s645b) at (349,1359) {}; \node[vt] (s645c) at (380,1391) {}; \node[vt] (s645d) at (410,1391) {}; \node[vt] (s645e) at (318,1422) {}; \node[vt] (s645f) at (349,1422) {};
\draw[sol] (s645a) -- (s645b); \draw[sol] (s645c) -- (s645d); \draw[sol] (s645e) -- (s645f);
\draw[dsh] (s645a) -- (s645e); \draw[dsh] (s645b) -- (s645f);
\draw[dtt] (s645a) -- (s645d); \draw[dtt] (s645b) -- (s645c);
\draw[dsh] (s645c) -- ++(0,6); \draw[dsh] (s645d) -- ++(0,6); \draw[dtt] (s645e) -- ++(6,6); \draw[dtt] (s645f) -- ++(6,6);
\node[lab] (l645) at (358,1452) {$\mathcal{S}_{6,45}$};

\node[vt] (s646a) at (463,1359) {}; \node[vt] (s646b) at (501,1359) {}; \node[vt] (s646c) at (501,1391) {}; \node[vt] (s646d) at (556,1391) {}; \node[vt] (s646e) at (463,1422) {}; \node[vt] (s646f) at (525,1422) {};
\draw[sol] (s646a) -- (s646b); \draw[sol] (s646c) -- (s646d); \draw[sol] (s646e) -- (s646f);
\draw[dsh] (s646a) -- (s646e); \draw[dsh] (s646b) -- (s646c);
\draw[dtt] (s646a) -- (s646f); \draw[dtt] (s646b) -- (s646d);
\draw[dsh] (s646d) -- ++(0,6); \draw[dtt] (s646e) -- ++(6,6); \draw[dsh] (s646f) -- ++(0,6);
\node[lab] (l646) at (505,1452) {$\mathcal{S}_{6,46}$};

\node[vt] (s647a) at (608,1359) {}; \node[vt] (s647b) at (647,1359) {}; \node[vt] (s647c) at (647,1391) {}; \node[vt] (s647d) at (701,1391) {}; \node[vt] (s647e) at (608,1422) {}; \node[vt] (s647f) at (670,1422) {};
\draw[sol] (s647a) -- (s647b); \draw[sol] (s647c) -- (s647d); \draw[sol] (s647e) -- (s647f);
\draw[dsh] (s647a) -- (s647e); \draw[dsh] (s647b) -- (s647c);
\draw[dtt] (s647a) -- (s647d); \draw[dtt] (s647b) -- (s647f);
\draw[dsh] (s647d) -- ++(0,6); \draw[dtt] (s647e) -- ++(6,6); \draw[dsh] (s647f) -- ++(0,6);
\node[lab] (l647) at (650,1452) {$\mathcal{S}_{6,47}$};

\node[vt] (s648a) at (754,1359) {}; \node[vt] (s648b) at (785,1359) {}; \node[vt] (s648c) at (816,1391) {}; \node[vt] (s648d) at (846,1391) {}; \node[vt] (s648e) at (754,1422) {}; \node[vt] (s648f) at (785,1422) {};
\draw[sol] (s648a) -- (s648b); \draw[sol] (s648c) -- (s648d); \draw[sol] (s648e) -- (s648f);
\draw[dsh] (s648a) -- (s648e); \draw[dsh] (s648b) -- (s648f);
\draw[dtt] (s648b) -- (s648c); \draw[dtt] (s648f) -- (s648d);
\draw[dtt] (s648a) -- ++(6,6); \draw[dsh] (s648d) -- ++(0,6); \draw[dtt] (s648e) -- ++(6,6);
\node[lab] (l648) at (796,1452) {$\mathcal{S}_{6,48}$};

\end{tikzpicture}
\end{document}
